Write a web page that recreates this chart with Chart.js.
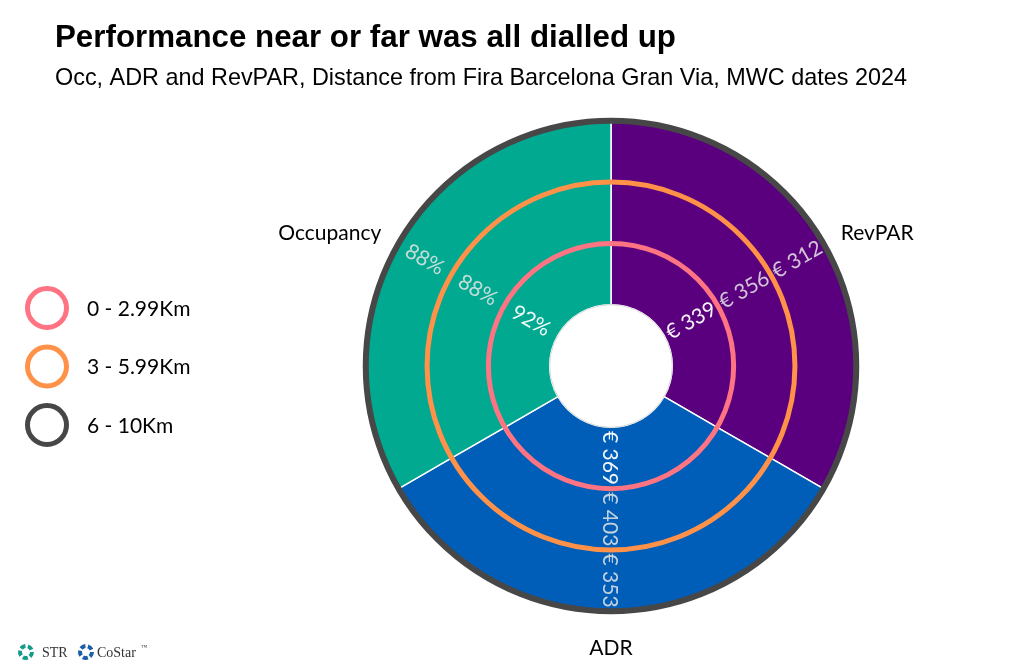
<!DOCTYPE html>
<html>
<head>
<meta charset="utf-8">
<script src="https://cdn.jsdelivr.net/npm/chart.js@4.4.1/dist/chart.umd.min.js"></script>
<style>
html,body{margin:0;padding:0;background:#fff;width:1024px;height:667px;overflow:hidden;}
canvas{display:block;}
</style>
</head>
<body>
<canvas id="c" width="1024" height="667"></canvas>
<script>
// ---- data ----
const titleText = 'Performance near or far was all dialled up';
const subtitleText = 'Occ, ADR and RevPAR, Distance from Fira Barcelona Gran Via, MWC dates 2024';
const categories = ['RevPAR', 'ADR', 'Occupancy'];          // clockwise from top
const bands = ['0 - 2.99Km', '3 - 5.99Km', '6 - 10Km'];      // inner -> outer
const occupancyPct = [92, 88, 88];
const adrEur = [369, 403, 353];
const revparEur = [339, 356, 312];
const sectorShare = [1, 1, 1];

// ---- styles ----
const sectorColors = ['#5A007E', '#005EB8', '#00A98F'];
const bandColors = ['#FF7482', '#FF9148', '#474747'];
const labelFont = 'Lato, "Open Sans", sans-serif';

function bandLabels(b) {
  return ['€ ' + revparEur[b], '€ ' + adrEur[b], occupancyPct[b] + '%'];
}

// datasets: Chart.js draws dataset 0 outermost
const datasets = [];
for (let b = bands.length - 1; b >= 0; b--) {
  datasets.push({
    label: bands[b],
    band: b,
    data: sectorShare.slice(),
    valueLabels: bandLabels(b),
    backgroundColor: sectorColors,
    borderColor: '#ffffff',
    borderWidth: 1.5,
    hoverOffset: 0
  });
}

const decorPlugin = {
  id: 'decor',
  afterDatasetsDraw(chart) {
    const ctx = chart.ctx;
    const n = chart.data.datasets.length;
    // hole edge
    const innerMeta = chart.getDatasetMeta(n - 1);
    const a0 = innerMeta.data[0];
    ctx.save();
    ctx.beginPath();
    ctx.arc(a0.x, a0.y, a0.innerRadius, 0, Math.PI * 2);
    ctx.strokeStyle = '#d9d9d9';
    ctx.lineWidth = 1;
    ctx.stroke();
    // band rings
    for (let i = 0; i < n; i++) {
      const meta = chart.getDatasetMeta(i);
      const arc = meta.data[0];
      const b = chart.data.datasets[i].band;
      ctx.beginPath();
      ctx.arc(arc.x, arc.y, arc.outerRadius, 0, Math.PI * 2);
      ctx.strokeStyle = bandColors[b];
      ctx.lineWidth = (b === bands.length - 1) ? 6 : 5;
      ctx.stroke();
    }
    // value labels
    ctx.font = '21px ' + labelFont;
    ctx.textAlign = 'center';
    ctx.textBaseline = 'middle';
    for (let i = 0; i < n; i++) {
      const meta = chart.getDatasetMeta(i);
      const ds = chart.data.datasets[i];
      meta.data.forEach((arc, j) => {
        const mid = (arc.startAngle + arc.endAngle) / 2;
        const r = (arc.innerRadius + arc.outerRadius) / 2;
        const x = arc.x + r * Math.cos(mid);
        const y = arc.y + r * Math.sin(mid);
        let rot = mid;
        if (Math.cos(mid) < -0.01) rot += Math.PI;
        ctx.save();
        ctx.translate(x, y);
        ctx.rotate(rot);
        ctx.fillStyle = ds.band === 0 ? 'rgba(255,255,255,0.95)' : 'rgba(230,230,230,0.85)';
        ctx.fillText(ds.valueLabels[j], 0, 1);
        ctx.restore();
      });
    }
    // category labels
    const outer = chart.getDatasetMeta(0);
    ctx.font = '21px ' + labelFont;
    ctx.fillStyle = '#000';
    outer.data.forEach((arc, j) => {
      const mid = (arc.startAngle + arc.endAngle) / 2;
      const r = arc.outerRadius + 20;
      const x = arc.x + r * Math.cos(mid);
      const y = arc.y + r * Math.sin(mid);
      const c = Math.cos(mid), s = Math.sin(mid);
      ctx.textAlign = c > 0.1 ? 'left' : (c < -0.1 ? 'right' : 'center');
      ctx.textBaseline = s > 0.9 ? 'top' : 'middle';
      ctx.fillText(categories[j], x, y + (s > 0.9 ? 6 : 0));
    });
    // legend
    ctx.textAlign = 'left';
    ctx.textBaseline = 'middle';
    bands.forEach((lab, b) => {
      const cy = 308 + b * 58.5;
      ctx.beginPath();
      ctx.arc(47, cy, 19.5, 0, Math.PI * 2);
      ctx.strokeStyle = bandColors[b];
      ctx.lineWidth = 5;
      ctx.stroke();
      ctx.fillStyle = '#000';
      ctx.font = '21px ' + labelFont;
      ctx.fillText(lab, 87, cy + 1);
    });
    // title & subtitle
    ctx.textBaseline = 'alphabetic';
    ctx.fillStyle = '#000';
    ctx.font = 'bold 31.3px "Liberation Sans", Arial, sans-serif';
    ctx.fillText(titleText, 55, 47);
    ctx.font = '23.4px "Liberation Sans", Arial, sans-serif';
    ctx.fillText(subtitleText, 55, 85);
    // source logos
    function logo(cx, cy, color) {
      ctx.strokeStyle = color;
      ctx.lineWidth = 4;
      for (let k = 0; k < 5; k++) {
        const s0 = k * 2 * Math.PI / 5;
        ctx.beginPath();
        ctx.arc(cx, cy, 6, s0, s0 + 0.85);
        ctx.stroke();
      }
    }
    logo(26, 652, '#169a8a');
    logo(86, 652, '#1c5ea8');
    ctx.fillStyle = '#333';
    ctx.font = '14px "Liberation Serif", serif';
    ctx.fillText('STR', 42, 657);
    ctx.fillText('CoStar', 97, 657);
    ctx.font = '6px "Liberation Serif", serif';
    ctx.fillText('™', 141, 649);
    ctx.restore();
  }
};

new Chart(document.getElementById('c'), {
  type: 'doughnut',
  data: { labels: categories, datasets: datasets },
  options: {
    responsive: false,
    animation: false,
    cutout: '25%',
    layout: { padding: { left: 365, right: 167, top: 120, bottom: 55 } },
    plugins: { legend: { display: false }, tooltip: { enabled: false } },
    events: []
  },
  plugins: [decorPlugin]
});
</script>
</body>
</html>
